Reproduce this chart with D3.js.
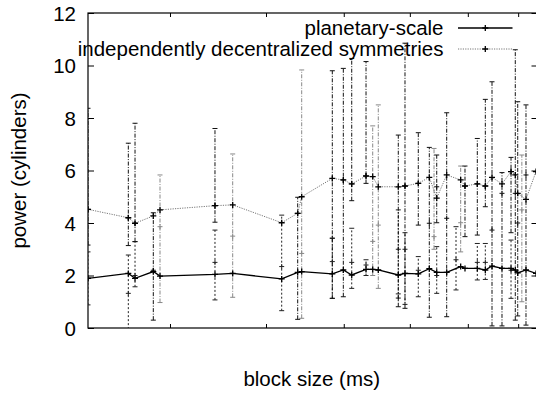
<!DOCTYPE html>
<html>
<head>
<meta charset="utf-8">
<script src="https://cdn.jsdelivr.net/npm/d3@7"></script>
<style>
  html, body { margin: 0; padding: 0; background: #fff; }
  svg { display: block; }
</style>
</head>
<body>
<div id="chart"></div>
<script>
// x values are in arbitrary block-size units (the axis carries no tick labels)
const pointX = [0, 8.97, 10.46, 14.53, 16.02, 28.25, 32.19, 43.09, 46.65, 47.54, 54.35, 56.8, 58.67, 61.85, 63.34, 64.58, 69.03, 70.52, 73.48, 75.93, 77.58, 79.8, 82.91, 83.87, 86.61, 88.39, 89.88, 92.1, 94.11, 95.06, 95.6, 97.44, 99.67, 101.5]
const planetaryScale = [1.89, 2.08, 1.89, 2.15, 1.98, 2.04, 2.08, 1.87, 2.12, 2.15, 2.06, 2.21, 2.02, 2.23, 2.23, 2.21, 2.02, 2.08, 2.06, 2.26, 2.12, 2.12, 2.34, 2.27, 2.27, 2.21, 2.36, 2.27, 2.27, 2.21, 2.1, 2.21, 2.08, 1.95]
const decentralized = [4.52, 4.2, 3.99, 4.27, 4.5, 4.66, 4.69, 4.01, 4.37, 5.0, 5.7, 5.64, 5.49, 5.79, 5.77, 5.38, 5.38, 5.41, 5.51, 5.74, 4.95, 5.83, 5.64, 5.41, 5.49, 5.41, 5.74, 5.49, 5.96, 5.83, 5.13, 4.9, 5.96, 6.3]

// error bars: [x, centre, low, high]
const errDashDot = [
  [0, 4.52, 3.16, 8.37], [8.97, 4.2, 3.14, 7.04], [10.46, 3.99, 3.29, 7.8], [14.53, 2.2, 0.3, 4.39],
  [28.25, 4.66, 4.03, 7.6], [46.65, 4.37, 0.33, 4.98], [54.35, 3.42, 1.13, 9.8], [56.8, 5.64, 1.19, 9.89],
  [58.67, 5.49, 4.85, 10.27], [61.85, 5.79, 5.51, 10.15], [69.03, 1.14, 0.81, 7.35], [70.52, 5.41, 0.75, 10.85],
  [73.48, 5.51, 3.92, 7.44], [75.93, 3.99, 0.41, 6.88], [77.58, 5.38, 4.01, 6.59], [79.8, 4.18, 0.43, 8.2],
  [83.87, 5.41, 3.48, 6.17], [86.61, 5.49, 3.54, 7.22], [88.39, 5.41, 4.62, 8.71], [89.88, 3.73, 0.08, 9.38],
  [92.1, 5.13, 0.08, 5.92], [94.11, 5.96, 3.63, 6.5], [95.06, 5.13, 0.3, 10.6], [95.6, 4.0, 0.46, 8.62],
  [97.44, 5.83, 0.11, 8.5]
]
const errGrey = [
  [16.02, 3.86, 0.97, 5.83], [32.19, 3.5, 1.17, 6.63], [47.54, 2.84, 0.37, 9.83], [63.34, 3.3, 2.0, 7.7],
  [64.58, 3.92, 1.51, 8.5], [76.98, 3.48, 3.0, 6.84], [82.91, 4.01, 2.9, 6.17], [96.52, 4.5, 1.0, 6.59]
]
const errDotted = [
  [0, 1.9, 0.88, 2.9], [8.97, 1.32, -0.5, 2.78], [10.46, 2.0, 1.57, 3.29], [28.25, 2.5, 1.07, 3.73],
  [43.09, 2.34, 0.66, 4.3], [54.35, 2.53, 1.13, 3.42], [58.67, 2.5, 1.51, 3.8], [61.85, 2.4, 2.0, 2.6],
  [69.03, 3.0, 1.3, 4.5], [70.52, 3.0, 0.9, 3.63], [73.48, 2.2, 1.19, 2.72], [77.58, 2.0, 1.32, 3.1],
  [81.87, 2.6, 1.45, 3.86], [86.61, 2.5, 1.83, 3.22], [88.39, 2.5, 1.85, 3.22], [94.11, 2.2, 1.13, 3.35]
]

const yTicks = [0, 2, 4, 6, 8, 10, 12]
const xTicks = [18.24, 39.6, 56.9, 71.6, 84.5, 95.7]
const legendLabels = ['planetary-scale', 'independently decentralized symmetries']

const width = 536
const height = 394
const margins = { left: 88, right: -1.5, top: 13, bottom: 66 }
const FONT = '"Liberation Sans", Arial, Helvetica, sans-serif'
const FONT_SIZE = 20.5

const xScale = d3.scaleLinear()
  .domain([0, 100])
  .range([margins.left, width - margins.right])

const yScale = d3.scaleLinear()
  .domain([0, 12])
  .range([height - margins.bottom, margins.top])

const svg = d3.select('#chart').append('svg')
  .attr('width', width)
  .attr('height', height)
  .attr('viewBox', [0, 0, width, height].join(' '))
  .style('font-family', FONT)

svg.append('defs').append('clipPath')
  .attr('id', 'plot-clip')
  .append('rect')
  .attr('x', xScale(0))
  .attr('y', yScale(12))
  .attr('width', xScale(100) - xScale(0))
  .attr('height', yScale(0) - yScale(12))

const plus = (g, x, y, s, color, w) => {
  g.append('path')
    .attr('d', `M${x - s},${y}H${x + s}M${x},${y - s}V${y + s}`)
    .attr('stroke', color)
    .attr('stroke-width', w)
    .attr('fill', 'none')
}

// Axes: y ticks left + mirrored right, x ticks bottom + mirrored top
const yAxisLeft = d3.axisLeft(yScale).tickValues(yTicks).tickSizeInner(-6).tickSizeOuter(0).tickPadding(12)
const yAxisRight = d3.axisRight(yScale).tickValues(yTicks).tickSizeInner(-6).tickSizeOuter(0).tickFormat('')
const xAxisBottom = d3.axisBottom(xScale).tickValues(xTicks).tickSizeInner(-4).tickSizeOuter(0).tickFormat('')
const xAxisTop = d3.axisTop(xScale).tickValues(xTicks).tickSizeInner(-4).tickSizeOuter(0).tickFormat('')

const styleAxis = g => {
  g.select('.domain').remove()
  g.selectAll('.tick line').attr('stroke', '#000').attr('stroke-width', 1)
}

svg.append('g').attr('transform', `translate(${xScale(0)},0)`).call(yAxisLeft).call(styleAxis)
  .selectAll('.tick text')
  .attr('font-family', FONT)
  .attr('font-size', FONT_SIZE)
  .attr('fill', '#000')
  .attr('x', -12)
  .attr('dy', '0.35em')
svg.append('g').attr('transform', `translate(${xScale(100)},0)`).call(yAxisRight).call(styleAxis)
svg.append('g').attr('transform', `translate(0,${yScale(0)})`).call(xAxisBottom).call(styleAxis)
svg.append('g').attr('transform', `translate(0,${yScale(12)})`).call(xAxisTop).call(styleAxis)

// Border
svg.append('rect')
  .attr('x', xScale(0))
  .attr('y', yScale(12))
  .attr('width', xScale(100) - xScale(0))
  .attr('height', yScale(0) - yScale(12))
  .attr('fill', 'none')
  .attr('stroke', '#000')
  .attr('stroke-width', 1.2)

// Axis titles
svg.append('text')
  .attr('x', (xScale(0) + xScale(100)) / 2 - 1)
  .attr('y', 386)
  .attr('text-anchor', 'middle')
  .attr('font-size', FONT_SIZE)
  .attr('fill', '#000')
  .text('block size (ms)')

svg.append('text')
  .attr('transform', `translate(26,${(yScale(0) + yScale(12)) / 2}) rotate(-90)`)
  .attr('text-anchor', 'middle')
  .attr('font-size', FONT_SIZE)
  .attr('fill', '#000')
  .text('power (cylinders)')

const plot = svg.append('g').attr('clip-path', 'url(#plot-clip)')

// Error bars
const drawErrors = (data, color, dash) => {
  const g = plot.append('g')
  data.forEach(([x, c, lo, hi]) => {
    const px = xScale(x)
    g.append('line')
      .attr('x1', px).attr('x2', px)
      .attr('y1', yScale(lo)).attr('y2', yScale(hi))
      .attr('stroke', color)
      .attr('stroke-width', 1)
      .attr('stroke-dasharray', dash)
    ;[lo, hi].forEach(v => {
      g.append('line')
        .attr('x1', px - 2.5).attr('x2', px + 2.5)
        .attr('y1', yScale(v)).attr('y2', yScale(v))
        .attr('stroke', color)
        .attr('stroke-width', 1)
    })
    plus(g, px, yScale(c), 2.5, color, 1)
  })
}

drawErrors(errDotted, '#222', '2,2')
drawErrors(errGrey, '#888', '4,1.5,1,1.5')
drawErrors(errDashDot, '#111', '4,1.5,1,1.5')

// Lines
const line = d3.line()
  .x(d => xScale(d[0]))
  .y(d => yScale(d[1]))

const series = [
  { values: planetaryScale, color: '#000', width: 1.3, dash: null },
  { values: decentralized, color: '#777', width: 1, dash: '1.2,1.2' }
]

series.forEach(s => {
  const pts = pointX.map((x, i) => [x, s.values[i]])
  plot.append('path')
    .datum(pts)
    .attr('d', line)
    .attr('fill', 'none')
    .attr('stroke', s.color)
    .attr('stroke-width', s.width)
    .attr('stroke-dasharray', s.dash)
  const g = plot.append('g')
  pts.forEach(([x, y]) => plus(g, xScale(x), yScale(y), 3, '#000', 1.3))
})

// Legend
const legend = svg.append('g')
legendLabels.forEach((label, i) => {
  const base = 35 + i * 21
  legend.append('text')
    .attr('x', 443.5)
    .attr('y', base)
    .attr('text-anchor', 'end')
    .attr('font-size', FONT_SIZE)
    .attr('fill', '#000')
    .text(label)
  legend.append('line')
    .attr('x1', 458).attr('x2', 512.5)
    .attr('y1', base - 7).attr('y2', base - 7)
    .attr('stroke', series[i].color)
    .attr('stroke-width', series[i].width)
    .attr('stroke-dasharray', series[i].dash)
  plus(legend, 485.3, base - 7, 3, '#000', 1.3)
})
</script>
</body>
</html>
